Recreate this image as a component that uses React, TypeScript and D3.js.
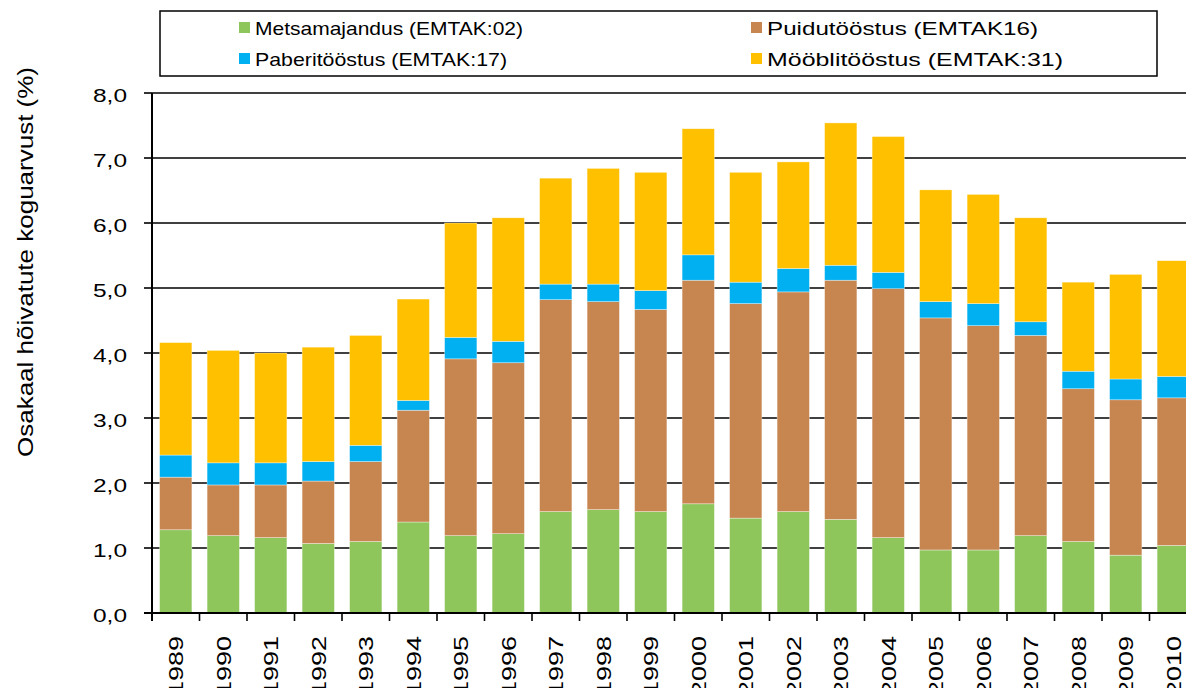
import React from 'react';
import * as d3 from 'd3';

const years = [
  '1989', '1990', '1991', '1992', '1993', '1994', '1995', '1996', '1997', '1998', '1999',
  '2000', '2001', '2002', '2003', '2004', '2005', '2006', '2007', '2008', '2009', '2010',
];

// Metsamajandus (EMTAK:02)
const forestry = [1.28, 1.19, 1.16, 1.07, 1.1, 1.4, 1.19, 1.22, 1.56, 1.59, 1.56, 1.68, 1.46, 1.56, 1.44, 1.16, 0.97, 0.97, 1.19, 1.1, 0.89, 1.04];
// Puidutööstus (EMTAK16)
const wood = [0.81, 0.78, 0.81, 0.96, 1.23, 1.72, 2.72, 2.63, 3.26, 3.2, 3.11, 3.44, 3.3, 3.38, 3.68, 3.83, 3.57, 3.45, 3.08, 2.35, 2.39, 2.27];
// Paberitööstus (EMTAK:17)
const paper = [0.34, 0.34, 0.34, 0.3, 0.25, 0.15, 0.33, 0.33, 0.24, 0.27, 0.29, 0.39, 0.33, 0.36, 0.23, 0.25, 0.25, 0.34, 0.21, 0.27, 0.32, 0.33];
// Mööblitööstus (EMTAK:31)
const furniture = [1.73, 1.73, 1.69, 1.76, 1.69, 1.56, 1.76, 1.9, 1.63, 1.78, 1.82, 1.94, 1.69, 1.64, 2.19, 2.09, 1.72, 1.68, 1.6, 1.37, 1.61, 1.78];

const seriesKeys = ['forestry', 'wood', 'paper', 'furniture'];
const seriesNames = ['Metsamajandus (EMTAK:02)', 'Puidutööstus (EMTAK16)', 'Paberitööstus (EMTAK:17)', 'Mööblitööstus  (EMTAK:31)'];
const seriesColors = ['#8EC65B', '#C78550', '#00B0F0', '#FFC000'];

const yTicks = [0, 1, 2, 3, 4, 5, 6, 7, 8];

const font = '"Liberation Sans", Arial, sans-serif';

// legend slots: [x of swatch, text baseline, text width], in series order
const legendSlots = [
  [239, 35, 268],
  [751, 35, 271],
  [239, 66, 252],
  [751, 66, 296],
];

export default function App() {
  const width = 1186;
  const height = 688;
  const left = 152;
  const top = 93;
  const bottom = 613;
  const right = left + 22 * 47.5;

  const table = years.map((y, i) => ({
    year: y,
    forestry: forestry[i],
    wood: wood[i],
    paper: paper[i],
    furniture: furniture[i],
  }));
  const stacked = d3.stack<any>().keys(seriesKeys)(table);

  const x = d3.scaleBand().domain(years).range([left, right]).padding(0);
  const y = d3.scaleLinear().domain([0, 8]).range([bottom, top]);
  const barW = x.bandwidth() * 0.68;
  const fmt = (t: number) => d3.format('.1f')(t).replace('.', ',');

  return (
    <svg width={width} height={height} style={{ position: 'absolute', left: 0, top: 0, background: '#fff' }} fontFamily={font}>
      {/* legend */}
      <rect x={160} y={11} width={997} height={65} fill="#fff" stroke="#000" strokeWidth={1.5} />
      {seriesNames.map((name, i) => {
        const [sx, base, tw] = legendSlots[i];
        return (
          <g key={name}>
            <rect x={sx} y={base - 13} width={11} height={11} fill={seriesColors[i]} />
            <text x={sx + 16} y={base} fontSize={19} fill="#000" textLength={tw} lengthAdjust="spacingAndGlyphs">
              {name}
            </text>
          </g>
        );
      })}

      {/* gridlines */}
      {yTicks.map((t) => (
        <line key={t} x1={left} x2={width} y1={y(t)} y2={y(t)} stroke="#000" strokeWidth={1.6} />
      ))}

      {/* bars */}
      {stacked.map((layer, si) => (
        <g key={layer.key} fill={seriesColors[si]}>
          {layer.map((d, i) => (
            <rect
              key={years[i]}
              x={(x(years[i]) as number) + (x.bandwidth() - barW) / 2}
              y={y(d[1])}
              width={barW}
              height={y(d[0]) - y(d[1])}
              stroke="#fff"
              strokeOpacity={0.6}
              strokeWidth={0.6}
            />
          ))}
        </g>
      ))}

      {/* y axis */}
      <line x1={left} x2={left} y1={top} y2={bottom + 8} stroke="#000" strokeWidth={2} />
      {yTicks.map((t) => (
        <g key={t}>
          <line x1={left - 8} x2={left} y1={y(t)} y2={y(t)} stroke="#000" strokeWidth={1.6} />
          <text x={127} y={y(t) + 8.5} textAnchor="end" fontSize={19} fill="#000" textLength={34} lengthAdjust="spacingAndGlyphs">
            {fmt(t)}
          </text>
        </g>
      ))}

      {/* x axis */}
      <line x1={left - 8} x2={width} y1={bottom} y2={bottom} stroke="#000" strokeWidth={2} />
      {years.map((yr) => (
        <g key={yr}>
          <line x1={x(yr) as number} x2={x(yr) as number} y1={bottom} y2={bottom + 8} stroke="#000" strokeWidth={1.6} />
          <text
            transform={`translate(${(x(yr) as number) + x.bandwidth() / 2 + 7.5}, 636) rotate(-90)`}
            textAnchor="end"
            fontSize={21}
            fill="#000"
            textLength={60}
            lengthAdjust="spacingAndGlyphs"
          >
            {yr}
          </text>
        </g>
      ))}

      {/* y axis title */}
      <text
        transform="translate(33, 262) rotate(-90)"
        textAnchor="middle"
        fontSize={22}
        fill="#000"
        textLength={390}
        lengthAdjust="spacingAndGlyphs"
      >
        Osakaal hõivatute koguarvust  (%)
      </text>
    </svg>
  );
}
